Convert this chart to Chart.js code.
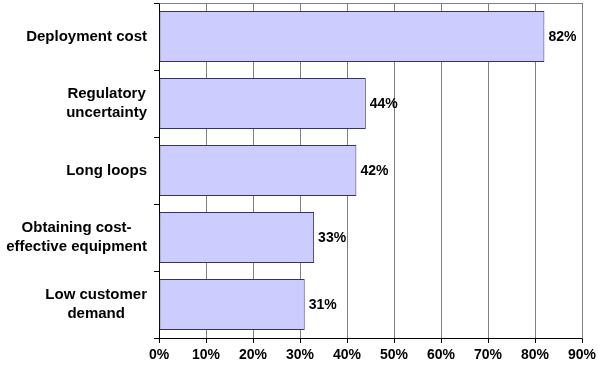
<!DOCTYPE html>
<html>
<head>
<meta charset="utf-8">
<script src="https://cdn.jsdelivr.net/npm/chart.js@4"></script>
<style>
  html, body { margin: 0; padding: 0; background: #fff; }
  #wrap { width: 599px; height: 371px; position: relative; }
</style>
</head>
<body>
<div id="wrap"><canvas id="chart"></canvas></div>
<script>
// chart data
const categories = [
  "Deployment cost",
  ["Regulatory", "uncertainty"],
  "Long loops",
  ["Obtaining cost-", "effective equipment"],
  ["Low customer", "demand"],
];
const shares = [82, 44, 42, 33, 31];
const xTicks = [0, 10, 20, 30, 40, 50, 60, 70, 80, 90];

const FAMILY = "'Liberation Sans', Arial, sans-serif";
const TICK_FONT = { family: FAMILY, size: 14, weight: "bold" };
const CAT_SIZE = 15;
const CAT_LINE = 19;

// gray frame on top/right of the plot area
const frame = {
  id: "frame",
  beforeDatasetsDraw(chart) {
    const { ctx, chartArea: a } = chart;
    ctx.save();
    ctx.strokeStyle = "#808080";
    ctx.lineWidth = 1;
    ctx.beginPath();
    ctx.moveTo(Math.round(a.left) + 0.5, Math.round(a.top) + 0.5);
    ctx.lineTo(Math.round(a.right) + 0.5, Math.round(a.top) + 0.5);
    ctx.lineTo(Math.round(a.right) + 0.5, Math.round(a.bottom) + 0.5);
    ctx.stroke();
    ctx.restore();
  },
};

// value labels to the right of each bar, category labels as centred blocks
const labels = {
  id: "labels",
  afterDraw(chart) {
    const { ctx } = chart;
    const meta = chart.getDatasetMeta(0);
    const yScale = chart.scales.y;
    ctx.save();
    ctx.fillStyle = "#000";
    ctx.textBaseline = "middle";

    ctx.font = `bold 14px ${FAMILY}`;
    ctx.textAlign = "left";
    meta.data.forEach((bar, i) => {
      ctx.fillText(`${shares[i]}%`, bar.x + 4, bar.y + 1);
    });

    ctx.font = `bold ${CAT_SIZE}px ${FAMILY}`;
    ctx.textAlign = "center";
    const right = yScale.right - 12;
    categories.forEach((c, i) => {
      const lines = Array.isArray(c) ? c : [c];
      const w = Math.max(...lines.map((l) => ctx.measureText(l).width));
      const cx = right - w / 2;
      const cy = yScale.getPixelForValue(i);
      lines.forEach((l, j) => {
        ctx.fillText(l, cx, cy + (j - (lines.length - 1) / 2) * CAT_LINE);
      });
    });
    ctx.restore();
  },
};

new Chart(document.getElementById("chart"), {
  type: "bar",
  data: {
    labels: categories,
    datasets: [
      {
        data: shares,
        backgroundColor: "#ccccff",
        borderColor: "#333366",
        borderWidth: 1,
        borderSkipped: false,
        categoryPercentage: 0.76,
        barPercentage: 1,
      },
    ],
  },
  options: {
    indexAxis: "y",
    responsive: true,
    maintainAspectRatio: false,
    animation: false,
    layout: { padding: { top: 3, right: 17, left: 0, bottom: 0 } },
    plugins: { legend: { display: false }, tooltip: { enabled: false } },
    scales: {
      x: {
        min: 0,
        max: 90,
        afterBuildTicks(scale) {
          scale.ticks = xTicks.map((v) => ({ value: v }));
        },
        afterFit(scale) {
          scale.height = 33;
          scale.paddingLeft = 0;
          scale.paddingRight = 0;
        },
        ticks: {
          color: "#000",
          font: TICK_FONT,
          padding: 4,
          maxRotation: 0,
          callback: (v) => `${v}%`,
        },
        grid: {
          color: "#808080",
          tickColor: "#000",
          tickLength: 5,
          drawOnChartArea: true,
        },
        border: { color: "#000", width: 1 },
      },
      y: {
        afterFit(scale) {
          scale.width = 159;
          scale.paddingTop = 0;
          scale.paddingBottom = 0;
        },
        ticks: {
          color: "rgba(0,0,0,0)",
          font: { family: FAMILY, size: CAT_SIZE, weight: "bold" },
          padding: 7,
        },
        grid: {
          drawOnChartArea: false,
          tickColor: "#000",
          tickLength: 5,
          offset: true,
        },
        border: { color: "#000", width: 1 },
      },
    },
  },
  plugins: [frame, labels],
});
</script>
</body>
</html>
